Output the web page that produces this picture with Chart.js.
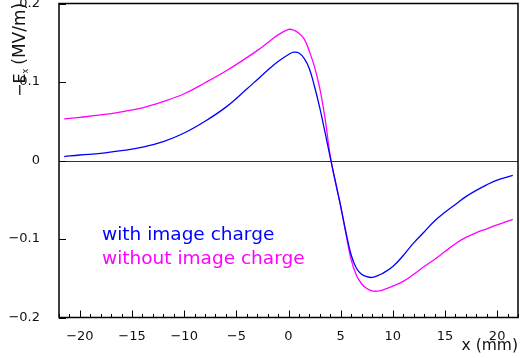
<!DOCTYPE html>
<html>
<head>
<meta charset="utf-8">
<script src="https://cdn.jsdelivr.net/npm/chart.js@4.4.1/dist/chart.umd.min.js"></script>
<style>
  html, body { margin: 0; padding: 0; background: #fff; }
  #wrap { width: 523px; height: 358px; }
</style>
</head>
<body>
<div id="wrap"><canvas id="efield"></canvas></div>
<script>
// --- data ---
const xValues = [-21.5, -20, -18, -16, -14, -12, -10, -8, -6, -4, -3, -2, -1, 0, 0.5, 1, 1.5, 2, 2.5, 3, 3.5, 4,
                 4.5, 5, 5.5, 6, 6.5, 7, 7.5, 8, 8.5, 9, 10, 11, 12, 13, 14, 15, 16, 17, 18, 19, 20, 21.5];
const withImage = [0.005, 0.007, 0.009, 0.0125, 0.017, 0.024, 0.035, 0.050, 0.068, 0.091, 0.103, 0.115, 0.126, 0.135,
                   0.138, 0.137, 0.130, 0.117, 0.094, 0.067, 0.036, 0.004, -0.027, -0.058, -0.091, -0.120, -0.137,
                   -0.145, -0.148, -0.149, -0.147, -0.144, -0.135, -0.121, -0.105, -0.091, -0.077, -0.066, -0.056,
                   -0.046, -0.038, -0.031, -0.025, -0.019];
const withoutImage = [0.053, 0.055, 0.058, 0.062, 0.067, 0.075, 0.085, 0.099, 0.114, 0.131, 0.140, 0.150, 0.160, 0.167,
                      0.166, 0.162, 0.155, 0.139, 0.119, 0.092, 0.054, 0.006, -0.028, -0.058, -0.093, -0.126, -0.146,
                      -0.157, -0.163, -0.166, -0.1665, -0.165, -0.160, -0.154, -0.145, -0.135, -0.126, -0.116, -0.106,
                      -0.098, -0.092, -0.087, -0.082, -0.075];
const xTickLabels = [-20, -15, -10, -5, 0, 5, 10, 15, 20];
const yTickLabels = [-0.2, -0.1, 0, 0.1, 0.2];
const seriesNames = ['with image charge', 'without image charge'];

const toPoints = (ys) => xValues.map((x, i) => ({ x: x, y: ys[i] }));
const minus = (s) => String(s).replace('-', '\u2212');

// --- frame, inward ticks, zero line ---
const framePlugin = {
    id: 'frame',
    beforeDatasetsDraw(chart) {
        const { ctx, chartArea: a, scales: { y } } = chart;
        const y0 = Math.round(y.getPixelForValue(0)) + 0.5;
        ctx.save();
        ctx.strokeStyle = '#333';
        ctx.lineWidth = 1;
        ctx.beginPath();
        ctx.moveTo(a.left, y0);
        ctx.lineTo(a.right, y0);
        ctx.stroke();
        ctx.restore();
    },
    afterDatasetsDraw(chart) {
        const { ctx, chartArea: a, scales: { x, y } } = chart;
        ctx.save();
        ctx.strokeStyle = '#000';
        ctx.lineWidth = 1.5;
        ctx.strokeRect(a.left, a.top, a.right - a.left, a.bottom - a.top);

        ctx.lineWidth = 1;
        ctx.beginPath();
        // minor x ticks every 1 mm, major at the labels
        for (let v = Math.ceil(x.min); v <= Math.floor(x.max); v++) {
            const px = Math.round(x.getPixelForValue(v)) + 0.5;
            const len = xTickLabels.includes(v) ? 7 : 3.5;
            ctx.moveTo(px, a.bottom);
            ctx.lineTo(px, a.bottom - len);
        }
        yTickLabels.forEach(v => {
            const py = Math.round(y.getPixelForValue(v)) + 0.5;
            ctx.moveTo(a.left, py);
            ctx.lineTo(a.left + 7, py);
        });
        ctx.stroke();
        ctx.restore();
    }
};

// --- y title with subscript, and text-only legend ---
const textPlugin = {
    id: 'texts',
    afterDraw(chart) {
        const { ctx } = chart;
        ctx.save();
        ctx.fillStyle = '#111';
        ctx.textBaseline = 'alphabetic';
        ctx.textAlign = 'left';
        ctx.translate(24.5, 97);
        ctx.rotate(-Math.PI / 2);
        ctx.font = '16px "DejaVu Sans"';
        ctx.fillText('\u2212E', 0, 0);
        let w = ctx.measureText('\u2212E').width;
        ctx.font = '8px "DejaVu Sans"';
        ctx.fillText('x', w, 3);
        w += ctx.measureText('x').width + 4;
        ctx.font = '17px "DejaVu Sans"';
        ctx.fillText('(MV/m)', w, 0);
        ctx.restore();

        ctx.save();
        ctx.font = '18.5px "DejaVu Sans"';
        ctx.textAlign = 'left';
        ctx.textBaseline = 'alphabetic';
        chart.data.datasets.forEach((ds, i) => {
            ctx.fillStyle = ds.borderColor;
            ctx.fillText(ds.label, 102, 240 + i * 24);
        });
        ctx.restore();
    }
};

const tickFont = { family: "'DejaVu Sans'", size: 13 };

new Chart(document.getElementById('efield'), {
    type: 'line',
    data: {
        datasets: [{
            label: seriesNames[0],
            data: toPoints(withImage),
            borderColor: '#0000ff',
            borderWidth: 1.3,
            pointRadius: 0,
            tension: 0.4,
            fill: false
        }, {
            label: seriesNames[1],
            data: toPoints(withoutImage),
            borderColor: '#ff00ff',
            borderWidth: 1.3,
            pointRadius: 0,
            tension: 0.4,
            fill: false
        }]
    },
    options: {
        responsive: true,
        maintainAspectRatio: false,
        animation: false,
        layout: { padding: { top: 3.5, right: 5, left: 0, bottom: 0 } },
        plugins: {
            legend: { display: false },
            tooltip: { enabled: false }
        },
        scales: {
            x: {
                type: 'linear',
                min: -22,
                max: 22,
                grid: { display: false },
                border: { display: false },
                afterBuildTicks: (s) => { s.ticks = xTickLabels.map(v => ({ value: v })); },
                afterFit: (s) => { s.height = 40.5; s.paddingLeft = 0; s.paddingRight = 0; },
                ticks: {
                    color: '#111',
                    font: tickFont,
                    padding: 3,
                    maxRotation: 0,
                    autoSkip: false,
                    callback: (v) => minus(v)
                },
                title: {
                    display: true,
                    text: 'x (mm)',
                    align: 'end',
                    color: '#111',
                    font: { family: "'DejaVu Sans'", size: 15.5 },
                    padding: { top: 0, bottom: 3 }
                }
            },
            y: {
                type: 'linear',
                min: -0.2,
                max: 0.2,
                grid: { display: false },
                border: { display: false },
                afterBuildTicks: (s) => { s.ticks = yTickLabels.map(v => ({ value: v })); },
                afterFit: (s) => { s.width = 59; s.paddingTop = 0; s.paddingBottom = 0; },
                ticks: {
                    color: '#111',
                    font: tickFont,
                    padding: 11,
                    callback: (v) => minus(v)
                }
            }
        }
    },
    plugins: [framePlugin, textPlugin]
});
</script>
</body>
</html>
